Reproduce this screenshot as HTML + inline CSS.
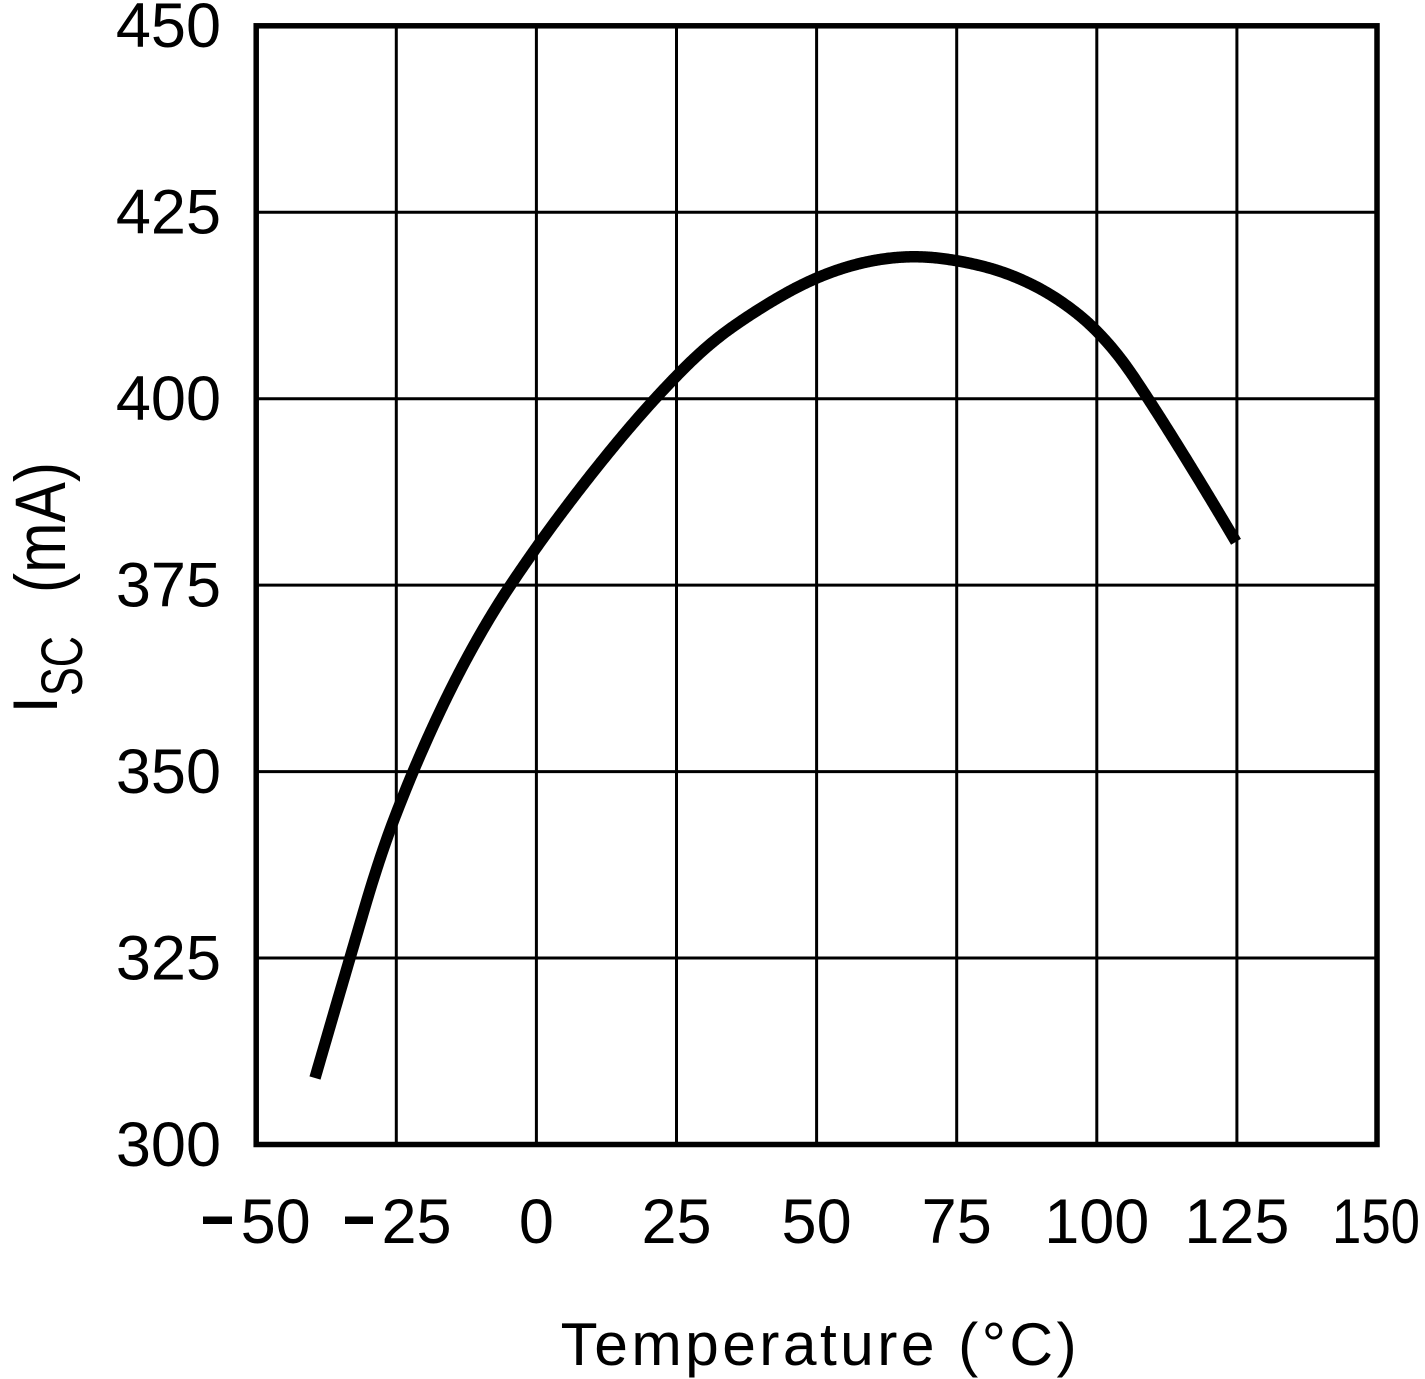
<!DOCTYPE html>
<html>
<head>
<meta charset="utf-8">
<style>
  html, body { margin: 0; padding: 0; background: #ffffff; }
  svg { display: block; }
  text { font-family: "Liberation Sans", "DejaVu Sans", sans-serif; fill: #000; }
</style>
</head>
<body>
<svg width="1425" height="1379" viewBox="0 0 1425 1379" xmlns="http://www.w3.org/2000/svg">
  <rect x="0" y="0" width="1425" height="1379" fill="#fff"/>

  <!-- grid lines -->
  <g stroke="#000" stroke-width="3" fill="none">
    <line x1="396.3" y1="25.8" x2="396.3" y2="1144.5"/>
    <line x1="536.4" y1="25.8" x2="536.4" y2="1144.5"/>
    <line x1="676.5" y1="25.8" x2="676.5" y2="1144.5"/>
    <line x1="816.6" y1="25.8" x2="816.6" y2="1144.5"/>
    <line x1="956.7" y1="25.8" x2="956.7" y2="1144.5"/>
    <line x1="1096.8" y1="25.8" x2="1096.8" y2="1144.5"/>
    <line x1="1236.9" y1="25.8" x2="1236.9" y2="1144.5"/>
    <line x1="256.2" y1="212.25" x2="1377" y2="212.25"/>
    <line x1="256.2" y1="398.7" x2="1377" y2="398.7"/>
    <line x1="256.2" y1="585.15" x2="1377" y2="585.15"/>
    <line x1="256.2" y1="771.6" x2="1377" y2="771.6"/>
    <line x1="256.2" y1="958.05" x2="1377" y2="958.05"/>
  </g>

  <!-- frame -->
  <rect x="256.2" y="25.8" width="1120.8" height="1118.7" fill="none" stroke="#000" stroke-width="5.5"/>

  <!-- curve (polyline fallback, replaced by smooth path via script) -->
  <polyline id="curvePoly" fill="none" stroke="#000" stroke-width="11.5" stroke-linejoin="round" stroke-linecap="butt"
    points="315,1078 365,907 395,817 420,756 467,658 510,586 555,522 620,439 685,368 733,327 786,293 840,269 893,257 940,257 985,266 1035,285 1077,312 1109,343 1135,378 1167,427 1236,541"/>
  <path id="curvePath" fill="none" stroke="#000" stroke-width="11.5" stroke-linejoin="round" stroke-linecap="butt" d=""/>

  <!-- Y tick labels -->
  <g font-size="63" text-anchor="end">
    <text x="221" y="47">450</text>
    <text x="221" y="233.5">425</text>
    <text x="221" y="420">400</text>
    <text x="221" y="606.5">375</text>
    <text x="221" y="793">350</text>
    <text x="221" y="979.5">325</text>
    <text x="221" y="1166">300</text>
  </g>

  <!-- X tick labels -->
  <rect x="203" y="1216.5" width="29" height="7.5" fill="#000"/>
  <text x="240.6" y="1243" font-size="63">50</text>
  <rect x="345" y="1216.5" width="28" height="7.5" fill="#000"/>
  <text x="381.5" y="1243" font-size="63">25</text>
  <g font-size="63" text-anchor="middle">
    <text x="536.4" y="1243">0</text>
    <text x="676.5" y="1243">25</text>
    <text x="816.6" y="1243">50</text>
    <text x="956.7" y="1243">75</text>
    <text x="1096.8" y="1243">100</text>
    <text x="1236.9" y="1243">125</text>
    <text x="1376" y="1243" textLength="88" lengthAdjust="spacingAndGlyphs">150</text>
  </g>

  <!-- X axis title -->
  <text x="560.6" y="1365" font-size="60.5" textLength="516" lengthAdjust="spacing">Temperature (°C)</text>

  <!-- Y axis title -->
  <text transform="translate(57,713.5) rotate(-90)" font-size="63">I</text>
  <text transform="translate(82,696) rotate(-90)" font-size="58" textLength="60" lengthAdjust="spacingAndGlyphs">SC</text>
  <text transform="translate(65,593) rotate(-90)" font-size="71" textLength="131" lengthAdjust="spacingAndGlyphs">(mA)</text>
</svg>
<script>
(function(){
  var poly = document.getElementById('curvePoly');
  var path = document.getElementById('curvePath');
  // upward slope r = -dy/dx at nodes
  var nodes = [[315,3.45],[365,3.4],[395,2.6],[420,2.3],[467,1.85],[510,1.5],[555,1.35],[620,1.2],[685,1.0],[733,0.7],[786,0.56],[840,0.33],[893,0.1],[940,-0.12],[985,-0.26],[1035,-0.51],[1077,-0.79],[1109,-1.15],[1135,-1.5],[1167,-1.59],[1236,-1.7]];
  function r(x){
    for (var i=0;i<nodes.length-1;i++){
      if (x<=nodes[i+1][0]){
        var t=(x-nodes[i][0])/(nodes[i+1][0]-nodes[i][0]);
        return nodes[i][1]+t*(nodes[i+1][1]-nodes[i][1]);
      }
    }
    return nodes[nodes.length-1][1];
  }
  var x=315, y=1078, dx=1;
  var d='M'+x+','+y;
  while (x<1236){
    var xm=x+dx/2;
    y -= r(xm)*dx;
    x += dx;
    d += ' L'+x+','+y.toFixed(2);
  }
  path.setAttribute('d', d);
  poly.setAttribute('stroke','none');
})();
</script>
</body>
</html>
